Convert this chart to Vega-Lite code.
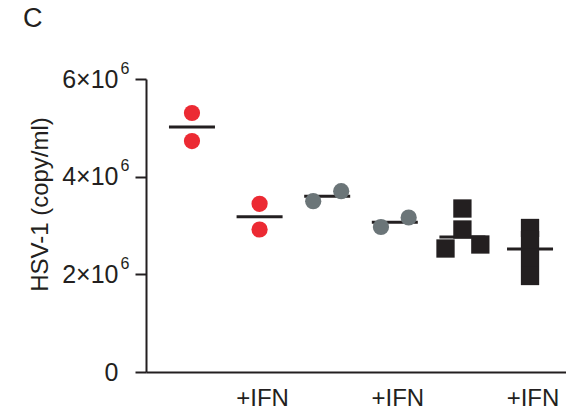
{
  "$schema": "https://vega.github.io/schema/vega-lite/v6.json",
  "width": 420,
  "height": 293,
  "autosize": {"type": "none"},
  "padding": {"left": 146, "top": 79, "right": 0, "bottom": 43},
  "background": "white",
  "config": {"view": {"stroke": null}, "font": "Liberation Sans"},
  "title": {"text": "C", "anchor": "start", "frame": "group", "baseline": "alphabetic", "offset": 6, "dy": 0, "dx": -123, "fontSize": 27, "fontWeight": "normal", "color": "#231f20", "font": "Liberation Sans"},
  "data": {"values": [
    {"group": "1", "series": "1", "jit": 0, "v": 5304000},
    {"group": "1", "series": "1", "jit": 0, "v": 4730000},
    {"group": "2", "series": "1", "jit": 0, "v": 3444000},
    {"group": "2", "series": "1", "jit": 0, "v": 2918000},
    {"group": "3", "series": "2", "jit": -0.414, "v": 3498000},
    {"group": "3", "series": "2", "jit": 0.414, "v": 3702000},
    {"group": "4", "series": "2", "jit": -0.41, "v": 2969000},
    {"group": "4", "series": "2", "jit": 0.41, "v": 3164000},
    {"group": "5", "series": "3", "jit": 0, "v": 3348000},
    {"group": "5", "series": "3", "jit": 0, "v": 2918000},
    {"group": "5", "series": "3", "jit": -0.5, "v": 2529000},
    {"group": "5", "series": "3", "jit": 0.53, "v": 2611000},
    {"group": "6", "series": "3", "jit": 0, "v": 2949000},
    {"group": "6", "series": "3", "jit": 0, "v": 2703000},
    {"group": "6", "series": "3", "jit": 0, "v": 2334000},
    {"group": "6", "series": "3", "jit": 0, "v": 1966000}
  ]},
  "encoding": {
    "x": {
      "field": "group", "type": "nominal", "sort": null,
      "scale": {"domain": ["1", "2", "3", "4", "5", "6"], "range": [0, 430], "paddingInner": 0, "paddingOuter": 0.18},
      "axis": {
        "title": null, "labelAngle": 0, "ticks": false, "domain": true, "domainColor": "#231f20", "domainWidth": 2,
        "labelExpr": "indexof(['2','4','6'], datum.value) >= 0 ? '+IFN' : ''",
        "labelFontSize": 24, "labelColor": "#231f20", "labelPadding": 14, "labelOffset": 3, "labelBaseline": "top"
      }
    }
  },
  "resolve": {"axis": {"y": "independent"}},
  "layer": [
    {
      "transform": [{"aggregate": [{"op": "median", "field": "v", "as": "v"}], "groupby": ["group"]}],
      "mark": {"type": "tick", "size": 46, "thickness": 3, "color": "#231f20", "opacity": 1},
      "encoding": {
        "y": {
          "field": "v", "type": "quantitative",
          "scale": {"domain": [0, 6000000], "nice": false, "zero": true},
          "axis": {
            "orient": "left",
            "title": "HSV-1 (copy/ml)", "titleFontSize": 24, "titleFontWeight": "normal", "titleColor": "#231f20",
            "titleAngle": -90, "titleAlign": "center", "titleBaseline": "alphabetic", "titleX": -99, "titleY": 125,
            "values": [0, 2000000, 4000000, 6000000], "grid": false,
            "labelExpr": "datum.value == 0 ? '0' : format(datum.value / 1000000, 'd') + '×10'",
            "labelFontSize": 25, "labelColor": "#231f20", "labelPadding": 17,
            "tickSize": 11, "tickWidth": 2, "tickColor": "#231f20", "domainColor": "#231f20", "domainWidth": 2
          }
        }
      }
    },
    {
      "transform": [{"filter": "datum.series != '3'"}],
      "mark": {"type": "point", "shape": "circle", "filled": true, "size": 263, "opacity": 1},
      "encoding": {
        "y": {
          "field": "v", "type": "quantitative",
          "scale": {"domain": [0, 6000000], "nice": false, "zero": true},
          "axis": {
            "orient": "left", "title": null, "domain": false, "ticks": false, "grid": false,
            "values": [2000000, 4000000, 6000000],
            "labelExpr": "'6'",
            "labelFontSize": 16, "labelColor": "#231f20", "labelPadding": 17, "labelOffset": -11
          }
        },
        "xOffset": {"field": "jit", "type": "quantitative", "scale": {"domain": [-1, 1]}},
        "color": {"field": "series", "type": "nominal", "legend": null, "scale": {"domain": ["1", "2", "3"], "range": ["#ec2a33", "#6b7578", "#231f20"]}}
      }
    },
    {
      "transform": [{"filter": "datum.series == '3'"}],
      "mark": {"type": "point", "shape": "square", "filled": true, "size": 335, "opacity": 1},
      "encoding": {
        "y": {
          "field": "v", "type": "quantitative",
          "scale": {"domain": [0, 6000000], "nice": false, "zero": true},
          "axis": null
        },
        "xOffset": {"field": "jit", "type": "quantitative", "scale": {"domain": [-1, 1]}},
        "color": {"field": "series", "type": "nominal", "legend": null, "scale": {"domain": ["1", "2", "3"], "range": ["#ec2a33", "#6b7578", "#231f20"]}}
      }
    }
  ]
}
